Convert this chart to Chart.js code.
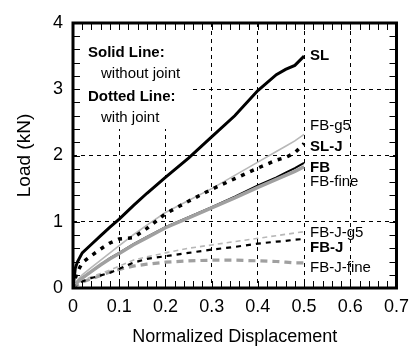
<!doctype html>
<html lang="en">
<head>
<meta charset="utf-8">
<title>Load vs Normalized Displacement</title>
<script src="https://cdn.jsdelivr.net/npm/chart.js@4.4.1/dist/chart.umd.min.js"></script>
<style>
  body { margin: 0; background: #fff; }
</style>
</head>
<body>
<canvas id="myChart" width="417" height="349"></canvas>
<script>
// normalized displacement samples shared by every curve
const disp = [0, 0.005, 0.01, 0.02, 0.04, 0.06, 0.08, 0.1, 0.13, 0.16, 0.2, 0.25, 0.3, 0.35, 0.4, 0.44, 0.46, 0.48, 0.5];

// load (kN)
const loadSL      = [0, 0.30, 0.40, 0.53, 0.66, 0.79, 0.92, 1.04, 1.24, 1.43, 1.67, 1.96, 2.28, 2.60, 2.98, 3.22, 3.30, 3.36, 3.50];
const loadSLJ     = [0, 0.15, 0.25, 0.38, 0.49, 0.59, 0.68, 0.74, 0.76, 0.90, 1.12, 1.31, 1.49, 1.65, 1.81, 1.93, 1.97, 2.04, 2.18];
const loadFBg5    = [0, 0.07, 0.12, 0.20, 0.31, 0.42, 0.53, 0.64, 0.80, 0.95, 1.14, 1.32, 1.50, 1.70, 1.90, 2.06, 2.14, 2.22, 2.32];
const loadFB      = [0, 0.05, 0.09, 0.15, 0.25, 0.35, 0.45, 0.53, 0.66, 0.77, 0.92, 1.07, 1.22, 1.38, 1.55, 1.67, 1.74, 1.81, 1.89];
const loadFBfine  = [0, 0.05, 0.09, 0.15, 0.25, 0.35, 0.44, 0.52, 0.65, 0.76, 0.91, 1.06, 1.21, 1.36, 1.52, 1.64, 1.70, 1.76, 1.83];
const loadFBJg5   = [0, 0.04, 0.07, 0.11, 0.17, 0.22, 0.27, 0.33, 0.42, 0.47, 0.53, 0.60, 0.65, 0.70, 0.75, 0.79, 0.81, 0.83, 0.85];
const loadFBJ     = [0, 0.03, 0.06, 0.10, 0.15, 0.19, 0.23, 0.29, 0.38, 0.44, 0.48, 0.53, 0.58, 0.62, 0.67, 0.70, 0.71, 0.73, 0.74];
const loadFBJfine = [0, 0.03, 0.05, 0.09, 0.14, 0.19, 0.24, 0.28, 0.33, 0.36, 0.39, 0.41, 0.42, 0.42, 0.41, 0.40, 0.39, 0.38, 0.38];

// curve names written at the end of the curves
const tagNames = ['SL', 'FB-g5', 'SL-J', 'FB', 'FB-fine', 'FB-J-g5', 'FB-J', 'FB-J-fine'];
const tagLoads = [3.50, 2.45, 2.13, 1.81, 1.60, 0.83, 0.61, 0.31];
const tagBold  = [true, false, true, true, false, false, true, false];

const noteLines = ['Solid Line:', 'without joint', 'Dotted Line:', 'with joint'];

const FONT = '"Liberation Sans", Arial, Helvetica, sans-serif';

const pts = ys => disp.map((x, i) => ({x: x, y: ys[i]}));

const line = (label, ys, color, width, dash) => ({
  label: label,
  data: pts(ys),
  borderColor: color,
  borderWidth: width,
  borderDash: dash || [],
  pointRadius: 0,
  tension: 0,
  fill: false
});

// first dataset is painted last (on top)
const datasets = [
  line('SL', loadSL, '#000', 3),
  line('SL-J', loadSLJ, '#000', 3.5, [4, 6]),
  line('FB-fine', loadFBfine, '#a0a0a0', 3.5),
  line('FB', loadFB, '#000', 2),
  line('FB-g5', loadFBg5, '#b8b8b8', 1.6),
  line('FB-J', loadFBJ, '#000', 2.2, [5, 5]),
  line('FB-J-g5', loadFBJg5, '#b8b8b8', 1.6, [5, 4]),
  line('FB-J-fine', loadFBJfine, '#a0a0a0', 3.2, [7, 5])
];

const frame = {
  id: 'frame',
  beforeDatasetsDraw(chart) {
    // white note box hides the grid behind the text
    const ctx = chart.ctx, a = chart.chartArea;
    ctx.save();
    ctx.fillStyle = '#fff';
    ctx.fillRect(a.left + 2, a.top + 2, 116, 104);
    ctx.restore();
  },
  afterDatasetsDraw(chart) {
    const ctx = chart.ctx, a = chart.chartArea;
    const xs = chart.scales.x, ys = chart.scales.y;
    ctx.save();

    // inward minor ticks on all four sides
    ctx.strokeStyle = '#000';
    ctx.lineWidth = 1;
    ctx.beginPath();
    for (let i = 1; i < 35; i++) {
      const px = Math.round(xs.getPixelForValue(i * 0.02)) + 0.5;
      ctx.moveTo(px, a.bottom); ctx.lineTo(px, a.bottom - 7);
      ctx.moveTo(px, a.top); ctx.lineTo(px, a.top + 7);
    }
    for (let i = 1; i < 20; i++) {
      const py = Math.round(ys.getPixelForValue(i * 0.2)) + 0.5;
      ctx.moveTo(a.left, py); ctx.lineTo(a.left + 7, py);
      ctx.moveTo(a.right, py); ctx.lineTo(a.right - 7, py);
    }
    ctx.stroke();

    // heavy frame
    ctx.lineWidth = 3;
    ctx.strokeRect(a.left, a.top, a.right - a.left, a.bottom - a.top);

    // note text
    ctx.fillStyle = '#000';
    ctx.textBaseline = 'middle';
    ctx.textAlign = 'left';
    const noteY = [30, 51, 74, 95];
    noteLines.forEach((t, i) => {
      const bold = i % 2 === 0;
      ctx.font = (bold ? 'bold ' : '') + '15px ' + FONT;
      ctx.fillText(t, a.left + (bold ? 15 : 28), a.top + noteY[i]);
    });

    // curve names
    const tx = xs.getPixelForValue(0.5) + 6;
    tagNames.forEach((t, i) => {
      ctx.font = (tagBold[i] ? 'bold ' : '') + '15px ' + FONT;
      ctx.fillText(t, tx, ys.getPixelForValue(tagLoads[i]));
    });
    ctx.restore();
  }
};

const gridColor = ctx => (ctx.tick.value > 0 && ctx.index < ctx.scale.ticks.length - 1) ? '#000' : 'rgba(0,0,0,0)';

new Chart(document.getElementById('myChart'), {
  type: 'line',
  data: { datasets: datasets },
  options: {
    responsive: false,
    animation: false,
    devicePixelRatio: 1,
    layout: { padding: { top: 23, right: 9, left: 0, bottom: 0 } },
    plugins: { legend: { display: false }, tooltip: { enabled: false } },
    scales: {
      x: {
        type: 'linear',
        min: 0, max: 0.7,
        border: { display: false, dash: [4, 4] },
        grid: { color: gridColor, lineWidth: 1, drawTicks: false },
        ticks: {
          stepSize: 0.1, padding: 8, color: '#000',
          font: { family: FONT, size: 18 },
          callback: v => String(+v.toFixed(1))
        },
        title: {
          display: true, text: 'Normalized Displacement', color: '#000',
          font: { family: FONT, size: 18 }, padding: { top: 0, bottom: 1 }
        },
        afterFit: s => { s.height = 61; }
      },
      y: {
        type: 'linear',
        min: 0, max: 4,
        border: { display: false, dash: [4, 4] },
        grid: { color: gridColor, lineWidth: 1, drawTicks: false },
        ticks: {
          stepSize: 1, padding: 10, color: '#000',
          font: { family: FONT, size: 18 }
        },
        title: {
          display: true, text: 'Load (kN)', color: '#000',
          font: { family: FONT, size: 19 }, padding: { top: 13, bottom: 0 }
        },
        afterFit: s => { s.width = 73; }
      }
    }
  },
  plugins: [frame]
});
</script>
</body>
</html>
